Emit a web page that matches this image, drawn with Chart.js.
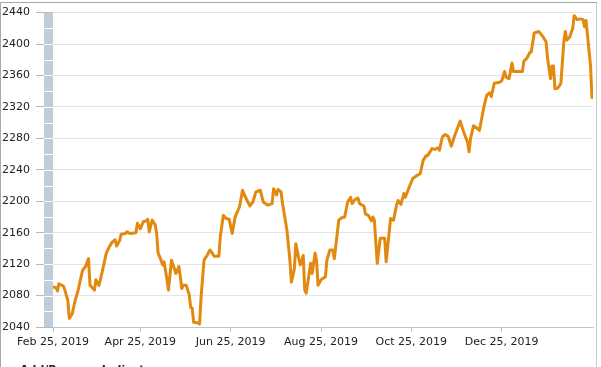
<!DOCTYPE html>
<html>
<head>
<meta charset="utf-8">
<script src="https://cdn.jsdelivr.net/npm/chart.js@4/dist/chart.umd.min.js"></script>
<style>
  html, body { margin: 0; padding: 0; background: #fff; overflow: hidden; }
  #wrap { position: relative; width: 601px; height: 367px; overflow: hidden; }
  #c { position: absolute; left: 0; top: 0; }
  #frame { position: absolute; left: 0; top: 2px; width: 595px; height: 380px;
           border-left: 1px solid #a8a8a8; border-top: 1px solid #a8a8a8; border-right: 1px solid #c8c8c8; }
  #ind { position: absolute; left: 20px; top: 363px; font: bold 11px "DejaVu Sans", sans-serif; color: #222; white-space: nowrap; }
</style>
</head>
<body>
<div id="wrap">
  <canvas id="c" width="601" height="367"></canvas>
  <div id="frame"></div>
  <div id="ind">Add/Remove Indicators</div>
</div>
<script>
const startDate = "2019-02-25";
const endDate = "2020-02-24";
const tickDates = ["2019-02-25", "2019-04-25", "2019-06-25", "2019-08-25", "2019-10-25", "2019-12-25"];
const tickLabels = ["Feb 25, 2019", "Apr 25, 2019", "Jun 25, 2019", "Aug 25, 2019", "Oct 25, 2019", "Dec 25, 2019"];
const yTicks = [2040, 2080, 2120, 2160, 2200, 2240, 2280, 2320, 2360, 2400, 2440];

const dates = [
  "2019-02-25","2019-02-27","2019-02-28","2019-03-01","2019-03-04","2019-03-05","2019-03-07","2019-03-08","2019-03-10","2019-03-12",
  "2019-03-14","2019-03-16","2019-03-17","2019-03-19","2019-03-21","2019-03-22","2019-03-24","2019-03-25","2019-03-26","2019-03-28",
  "2019-03-29","2019-03-31","2019-04-02","2019-04-04","2019-04-06","2019-04-08","2019-04-09","2019-04-11","2019-04-12","2019-04-15",
  "2019-04-16","2019-04-18","2019-04-22","2019-04-23","2019-04-25","2019-04-27","2019-04-29","2019-04-30","2019-05-01","2019-05-03",
  "2019-05-05","2019-05-06","2019-05-07","2019-05-09","2019-05-10","2019-05-11","2019-05-13","2019-05-14","2019-05-16","2019-05-18",
  "2019-05-19","2019-05-21","2019-05-22","2019-05-23","2019-05-24","2019-05-26","2019-05-27","2019-05-28","2019-05-29","2019-05-30",
  "2019-05-31","2019-06-03","2019-06-04","2019-06-05","2019-06-07","2019-06-09","2019-06-11","2019-06-14","2019-06-17","2019-06-18",
  "2019-06-20","2019-06-22","2019-06-24","2019-06-26","2019-06-28","2019-07-01","2019-07-03","2019-07-05","2019-07-08","2019-07-10",
  "2019-07-12","2019-07-15","2019-07-17","2019-07-20","2019-07-23","2019-07-24","2019-07-26","2019-07-27","2019-07-29","2019-07-30",
  "2019-08-02","2019-08-04","2019-08-05","2019-08-07","2019-08-08","2019-08-10","2019-08-11","2019-08-13","2019-08-14","2019-08-15",
  "2019-08-17","2019-08-18","2019-08-19","2019-08-21","2019-08-22","2019-08-23","2019-08-25","2019-08-28","2019-08-29","2019-08-31",
  "2019-09-02","2019-09-03","2019-09-06","2019-09-08","2019-09-10","2019-09-12","2019-09-14","2019-09-15","2019-09-17","2019-09-19",
  "2019-09-20","2019-09-23","2019-09-24","2019-09-26","2019-09-28","2019-09-29","2019-09-30","2019-10-02","2019-10-04","2019-10-07",
  "2019-10-08","2019-10-11","2019-10-13","2019-10-15","2019-10-16","2019-10-18","2019-10-20","2019-10-21","2019-10-24","2019-10-26",
  "2019-10-29","2019-10-31","2019-11-02","2019-11-04","2019-11-05","2019-11-08","2019-11-10","2019-11-12","2019-11-13","2019-11-15",
  "2019-11-17","2019-11-19","2019-11-21","2019-11-23","2019-11-27","2019-11-29","2019-12-02","2019-12-03","2019-12-04","2019-12-06",
  "2019-12-09","2019-12-10","2019-12-13","2019-12-15","2019-12-17","2019-12-18","2019-12-20","2019-12-23","2019-12-25","2019-12-27",
  "2019-12-28","2019-12-30","2020-01-01","2020-01-02","2020-01-05","2020-01-08","2020-01-09","2020-01-11","2020-01-13","2020-01-14",
  "2020-01-16","2020-01-19","2020-01-20","2020-01-22","2020-01-24","2020-01-25","2020-01-27","2020-01-28","2020-01-29","2020-01-30",
  "2020-02-01","2020-02-03","2020-02-05","2020-02-06","2020-02-07","2020-02-09","2020-02-11","2020-02-12","2020-02-14","2020-02-16",
  "2020-02-18","2020-02-19","2020-02-20","2020-02-21","2020-02-23","2020-02-24"
];
const values = [
  2091,2090,2086,2095,2092,2087,2074,2051,2057,2074,
  2087,2104,2112,2117,2127,2093,2089,2087,2100,2093,
  2100,2117,2134,2142,2148,2151,2143,2150,2158,2159,
  2161,2159,2160,2172,2165,2174,2175,2177,2161,2176,
  2170,2159,2134,2125,2119,2123,2100,2087,2125,2114,
  2108,2117,2104,2089,2093,2093,2087,2081,2065,2064,
  2046,2045,2044,2078,2125,2131,2138,2130,2130,2155,
  2182,2178,2177,2159,2180,2193,2214,2205,2194,2199,
  2212,2214,2199,2195,2197,2216,2208,2215,2212,2197,
  2163,2125,2097,2114,2146,2127,2119,2131,2087,2083,
  2108,2121,2108,2134,2125,2093,2100,2104,2125,2138,
  2138,2127,2176,2179,2180,2199,2205,2197,2202,2204,
  2197,2194,2184,2182,2175,2180,2176,2121,2153,2153,
  2123,2178,2176,2195,2201,2196,2210,2205,2220,2229,
  2233,2235,2252,2258,2258,2267,2266,2268,2265,2282,
  2285,2282,2270,2282,2302,2290,2275,2263,2280,2296,
  2292,2290,2320,2335,2338,2333,2350,2351,2353,2365,
  2358,2356,2376,2365,2365,2365,2378,2382,2389,2390,
  2414,2416,2414,2409,2403,2382,2356,2372,2372,2343,
  2344,2350,2403,2416,2405,2409,2420,2436,2431,2432,
  2431,2422,2430,2411,2373,2332
];

const DAY = 86400000;
const t0 = Date.parse(startDate + "T00:00:00Z");
const dayOf = s => (Date.parse(s + "T00:00:00Z") - t0) / DAY;
const points = dates.map((d, i) => ({ x: dayOf(d), y: values[i] }));

const axisBar = {
  id: 'axisBar',
  afterDatasetsDraw(chart) {
    const { ctx, chartArea } = chart;
    const ys = chart.scales.y;
    ctx.save();
    ctx.fillStyle = '#bfcddb';
    ctx.fillRect(chartArea.left - 9, chartArea.top, 9, chartArea.bottom - chartArea.top);
    ctx.strokeStyle = '#ffffff';
    ctx.lineWidth = 1;
    const step = (yTicks[1] - yTicks[0]) / 2;
    for (let v = ys.min + step; v < ys.max; v += step) {
      const py = Math.round(ys.getPixelForValue(v)) + 0.5;
      ctx.beginPath();
      ctx.moveTo(chartArea.left - 9, py);
      ctx.lineTo(chartArea.left, py);
      ctx.stroke();
    }
    ctx.restore();
  }
};

new Chart(document.getElementById('c'), {
  type: 'line',
  data: {
    datasets: [{
      data: points,
      borderColor: '#e3890f',
      borderWidth: 3,
      pointRadius: 0,
      tension: 0,
      borderJoinStyle: 'round',
      borderCapStyle: 'round',
      fill: false
    }]
  },
  options: {
    responsive: false,
    animation: false,
    devicePixelRatio: 1,
    layout: { padding: { top: 12, right: 8, left: 0, bottom: 0 } },
    plugins: { legend: { display: false }, tooltip: { enabled: false } },
    scales: {
      x: {
        type: 'linear',
        min: 0,
        max: dayOf(endDate) + 0.7,
        afterBuildTicks: s => { s.ticks = tickDates.map(d => ({ value: dayOf(d) })); },
        afterFit: s => { s.height = 40; },
        ticks: {
          autoSkip: false, maxRotation: 0, padding: 4,
          color: '#222',
          font: { family: 'DejaVu Sans', size: 11 },
          callback: (v) => { const i = tickDates.findIndex(d => dayOf(d) === v); return i >= 0 ? tickLabels[i] : ''; }
        },
        grid: { drawOnChartArea: false, tickLength: 5, color: '#b9c6d3' },
        border: { display: true, color: '#b9c6d3', width: 1 }
      },
      y: {
        min: yTicks[0],
        max: yTicks[yTicks.length - 1],
        afterBuildTicks: s => { s.ticks = yTicks.map(v => ({ value: v })); },
        afterFit: s => { s.width = 53; },
        ticks: {
          padding: 6,
          color: '#222',
          font: { family: 'DejaVu Sans', size: 11 },
          callback: v => String(v)
        },
        grid: { color: '#e4e4e4', tickColor: '#b8b8b8', tickLength: 17, lineWidth: 1 },
        border: { display: false }
      }
    }
  },
  plugins: [axisBar]
});
</script>
</body>
</html>
